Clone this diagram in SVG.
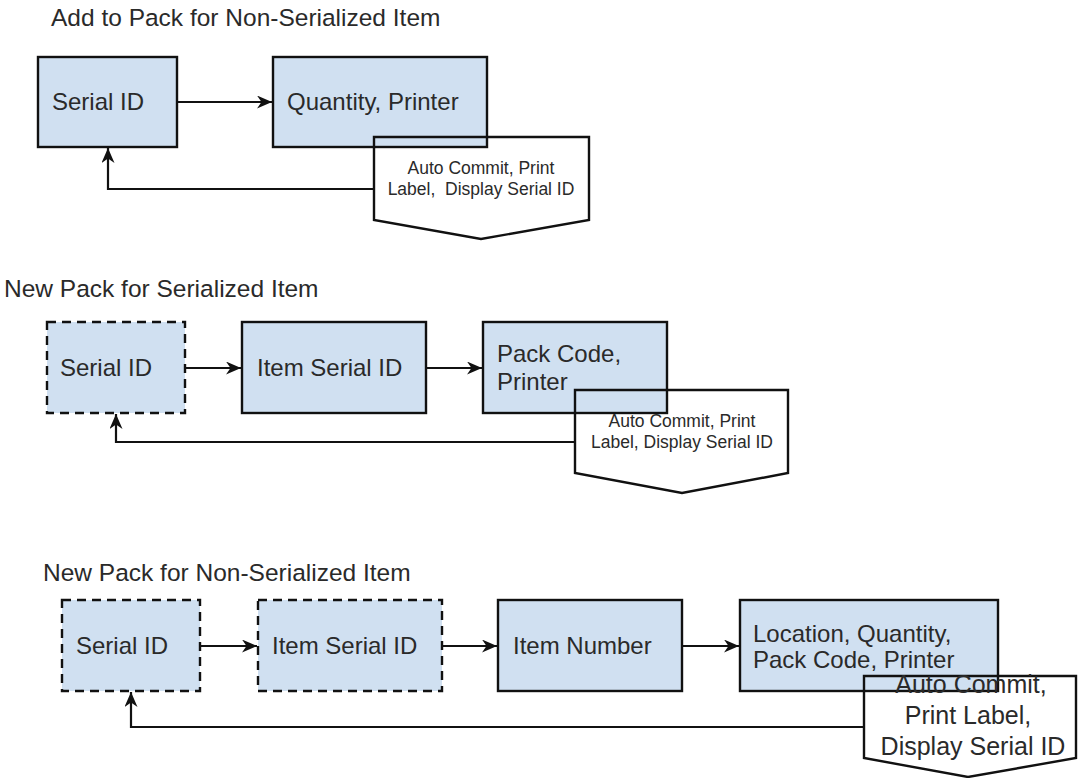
<svg xmlns="http://www.w3.org/2000/svg" width="1078" height="778" viewBox="0 0 1078 778">
  <style>
    .title { font-family: "Liberation Sans", Arial, sans-serif; font-size: 24.5px; fill: #2a2a2a; }
    .lbl { font-family: "Liberation Sans", Arial, sans-serif; font-size: 24px; fill: #2a2a2a; }
    .note { font-family: "Liberation Sans", Arial, sans-serif; font-size: 17.5px; fill: #2a2a2a; text-anchor: middle; white-space: pre; }
    .note-lg { font-family: "Liberation Sans", Arial, sans-serif; font-size: 25px; fill: #2a2a2a; text-anchor: middle; }
    .box { fill: #d0e0f1; stroke: #111; stroke-width: 2.4; }
    .dashed { stroke-dasharray: 9 6; }
    .callout { fill: none; stroke: #111; stroke-width: 2.4; stroke-linejoin: miter; }
    .link { fill: none; stroke: #111; stroke-width: 2.2; marker-end: url(#arrow); }
  </style>
  <defs>
    <!-- classic arrowhead with a notched back -->
    <marker id="arrow" markerUnits="userSpaceOnUse" markerWidth="16" markerHeight="13" refX="15" refY="6.5" orient="auto">
      <path d="M0,0 L15,6.5 L0,13 L4.5,6.5 Z" fill="#111"/>
    </marker>
  </defs>

  <rect x="0" y="0" width="1078" height="778" fill="#ffffff"/>

  <!-- Section titles -->
  <text class="title" x="51" y="26">Add to Pack for Non-Serialized Item</text>
  <text class="title" x="4" y="297">New Pack for Serialized Item</text>
  <text class="title" x="43" y="581">New Pack for Non-Serialized Item</text>

  <!-- ===== Add to Pack for Non-Serialized Item ===== -->
  <g id="a-serial-id">
    <rect class="box" x="38" y="57" width="139" height="90"/>
    <text class="lbl" x="52" y="110">Serial ID</text>
  </g>
  <g id="a-quantity-printer">
    <rect class="box" x="273" y="57" width="214" height="90"/>
    <text class="lbl" x="287" y="110">Quantity, Printer</text>
  </g>
  <g id="a-auto-commit">
    <path class="callout" d="M374,137 L589,137 L589,220 L481,239 L374,220 Z"/>
    <text class="note" x="481" y="174">Auto Commit, Print</text>
    <text class="note" x="481" y="195">Label,  Display Serial ID</text>
  </g>

  <!-- ===== New Pack for Serialized Item ===== -->
  <g id="b-serial-id">
    <rect class="box dashed" x="47" y="322" width="138" height="91"/>
    <text class="lbl" x="60" y="376">Serial ID</text>
  </g>
  <g id="b-item-serial-id">
    <rect class="box" x="242" y="322" width="184" height="91"/>
    <text class="lbl" x="257" y="376">Item Serial ID</text>
  </g>
  <g id="b-pack-code-printer">
    <rect class="box" x="483" y="322" width="184" height="91"/>
    <text class="lbl" x="497" y="362">Pack Code,</text>
    <text class="lbl" x="497" y="390">Printer</text>
  </g>
  <g id="b-auto-commit">
    <path class="callout" d="M575,390 L788,390 L788,473 L682,493 L575,473 Z"/>
    <text class="note" x="682" y="427">Auto Commit, Print</text>
    <text class="note" x="682" y="448">Label, Display Serial ID</text>
  </g>

  <!-- ===== New Pack for Non-Serialized Item ===== -->
  <g id="c-serial-id">
    <rect class="box dashed" x="62" y="600" width="138" height="91"/>
    <text class="lbl" x="76" y="654">Serial ID</text>
  </g>
  <g id="c-item-serial-id">
    <rect class="box dashed" x="258" y="600" width="184" height="91"/>
    <text class="lbl" x="272" y="654">Item Serial ID</text>
  </g>
  <g id="c-item-number">
    <rect class="box" x="498" y="600" width="184" height="91"/>
    <text class="lbl" x="513" y="654">Item Number</text>
  </g>
  <g id="c-location-quantity">
    <rect class="box" x="740" y="600" width="258" height="91"/>
    <text class="lbl" x="753" y="642">Location, Quantity,</text>
    <text class="lbl" x="753" y="668">Pack Code, Printer</text>
  </g>
  <g id="c-auto-commit">
    <path class="callout" d="M864,676 L1076,676 L1076,758 L968,777 L864,758 Z"/>
    <text class="note-lg" x="971" y="693">Auto Commit,</text>
    <text class="note-lg" x="968" y="724">Print Label,</text>
    <text class="note-lg" x="973" y="755">Display Serial ID</text>
  </g>

  <!-- Connectors -->
  <g id="connectors">
    <path class="link" d="M177,102 L272,102"/>
    <path class="link" d="M374,189 L108,189 L108,148"/>

    <path class="link" d="M185,368 L241,368"/>
    <path class="link" d="M426,368 L482,368"/>
    <path class="link" d="M575,442 L116,442 L116,414"/>

    <path class="link" d="M200,646 L257,646"/>
    <path class="link" d="M442,646 L497,646"/>
    <path class="link" d="M682,646 L739,646"/>
    <path class="link" d="M864,727 L131,727 L131,692"/>
  </g>
</svg>
